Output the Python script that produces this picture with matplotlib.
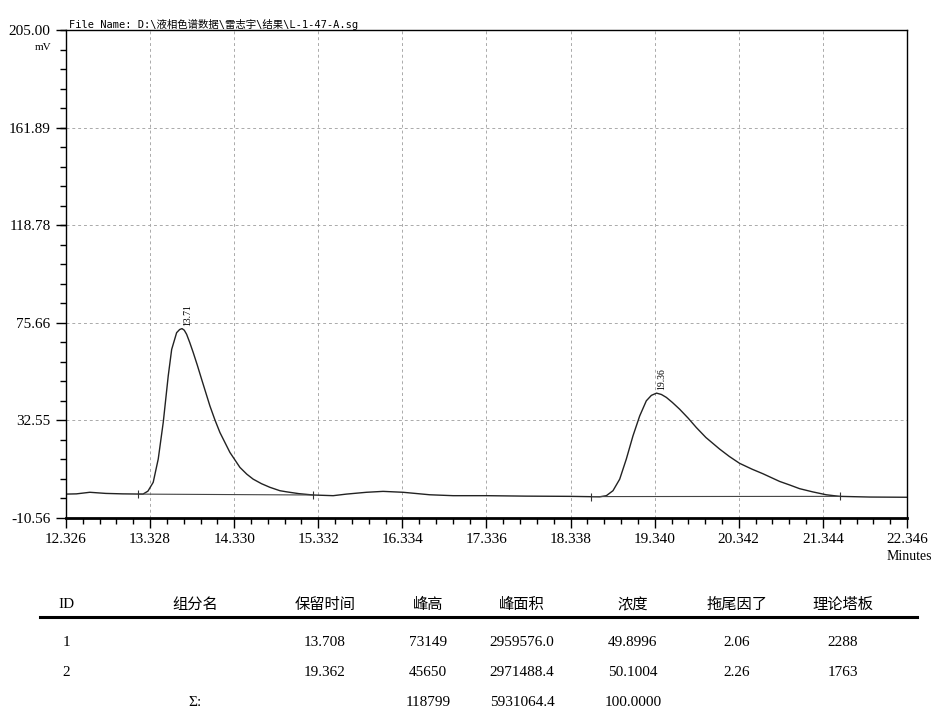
import matplotlib
matplotlib.use('Agg')
from matplotlib import pyplot as plt
from matplotlib.ticker import AutoMinorLocator
from matplotlib.lines import Line2D

plt.rcParams['font.family'] = ['Liberation Serif', 'Noto Sans CJK SC']

# chromatogram trace (minutes, mV)
times = [12.326, 12.45, 12.61, 12.80, 13.00, 13.243, 13.302, 13.365, 13.425, 13.485,
         13.544, 13.585, 13.644, 13.68, 13.708, 13.735, 13.763, 13.80, 13.842, 13.89,
         13.942, 14.041, 14.10, 14.160, 14.279, 14.398, 14.48, 14.556, 14.655, 14.755,
         14.874, 14.954, 15.10, 15.271, 15.509, 15.668, 15.906, 16.104, 16.342, 16.660,
         16.938, 17.335, 17.80, 18.327, 18.684, 18.764, 18.843, 18.923, 19.002, 19.081,
         19.161, 19.240, 19.30, 19.362, 19.42, 19.479, 19.55, 19.637, 19.74, 19.836,
         19.95, 20.113, 20.23, 20.351, 20.50, 20.629, 20.828, 20.95, 21.066, 21.22,
         21.384, 21.542, 21.899, 22.346]
signal = [0.0, 0.1, 0.8, 0.3, 0.1, 0.0, 1.3, 5.2, 15.5, 31.8,
          52.2, 63.9, 71.3, 72.7, 73.1, 72.4, 70.6, 67.0, 62.5, 57.0,
          50.7, 38.9, 32.8, 27.2, 18.4, 11.8, 8.8, 6.6, 4.6, 3.0,
          1.5, 1.0, 0.2, -0.4, -0.7, 0.0, 0.8, 1.2, 0.8, -0.3,
          -0.7, -0.7, -0.9, -1.0, -1.2, -0.7, 1.5, 6.6, 15.5, 25.7,
          34.5, 41.2, 43.6, 44.6, 44.0, 42.7, 40.5, 37.5, 33.5, 29.4,
          25.0, 19.9, 16.6, 13.6, 11.0, 9.0, 5.6, 4.0, 2.4, 1.0,
          -0.3, -1.0, -1.3, -1.4]

# integration baselines (start/end of each peak)
base1_t = [13.187, 15.271]
base1_v = [0.0, -0.4]
base2_t = [18.586, 21.542]
base2_v = [-1.1, -1.0]

peak_t = [13.708, 19.362]
peak_v = [73.1, 44.6]
peak_lbl = ['13.71', '19.36']

x_ticks = [12.326, 13.328, 14.330, 15.332, 16.334, 17.336, 18.338, 19.340, 20.342, 21.344, 22.346]
x_lbls = ['12.326', '13.328', '14.330', '15.332', '16.334', '17.336', '18.338', '19.340', '20.342', '21.344', '22.346']
y_ticks = [-10.56, 32.55, 75.66, 118.78, 161.89, 205.00]
y_lbls = ['-10.56', '32.55', '75.66', '118.78', '161.89', '205.00']

file_name = 'File Name: D:\\液相色谱数据\\雷志宇\\结果\\L-1-47-A.sg'

header = ['ID', '组分名', '保留时间', '峰高', '峰面积', '浓度', '拖尾因了', '理论塔板']
row1 = ['1', '', '13.708', '73149', '2959576.0', '49.8996', '2.06', '2288']
row2 = ['2', '', '19.362', '45650', '2971488.4', '50.1004', '2.26', '1763']
row_sum = ['', 'Σ:', '', '118799', '5931064.4', '100.0000', '', '']

W, H = 933., 711.
fig = plt.figure(figsize=(9.33, 7.11), dpi=100)
ax = fig.add_axes([66/W, 1-518/H, (907-66)/W, (518-30)/H])

ax.plot(times, signal, color='#222222', lw=1.0)
ax.plot(base1_t, base1_v, color='#444444', lw=0.8)
ax.plot(base2_t, base2_v, color='#444444', lw=0.8)
ax.plot(base1_t + base2_t, base1_v + base2_v, ls='none', marker='|', ms=6, color='#333333', mew=0.8)

for t, v, s in zip(peak_t, peak_v, peak_lbl):
    ax.annotate(s, xy=(t, v), xytext=(4, 2), textcoords='offset points',
                rotation=90, ha='center', va='bottom', fontsize=7)

ax.set_xlim(x_ticks[0], x_ticks[-1])
ax.set_ylim(y_ticks[0], y_ticks[-1])
ax.set_xticks(x_ticks)
ax.set_xticklabels(x_lbls, fontsize=11)
ax.set_yticks(y_ticks)
ax.set_yticklabels(y_lbls, fontsize=11)
ax.xaxis.set_minor_locator(AutoMinorLocator(5))
ax.yaxis.set_minor_locator(AutoMinorLocator(5))
ax.tick_params(which='major', direction='out', length=7, width=1.0, pad=4)
ax.tick_params(which='minor', direction='out', length=4, width=1.0)
ax.grid(True, which='major', ls=(0, (3, 3)), color='#aaaaaa', lw=0.7)
for sp in ['left', 'top', 'right']:
    ax.spines[sp].set_linewidth(1.0)
ax.spines['bottom'].set_linewidth(2.0)

ax.text(0.003, 1.0, file_name, transform=ax.transAxes, va='bottom',
        family=['DejaVu Sans Mono', 'Noto Sans CJK SC'], fontsize=7.5)
fig.text(43/W, 1-47/H, 'mV', ha='center', va='center', fontsize=8)
fig.text(932/W, 1-557/H, 'Minutes', ha='right', va='center', fontsize=10)

# results table
col_x = [66, 195, 325, 428, 522, 633, 737, 843]
row_y = [605, 643, 672, 702]
for y, row in zip(row_y, [header, row1, row2, row_sum]):
    for x, s in zip(col_x, row):
        fig.text(x/W, 1-y/H, s, ha='center', va='center', fontsize=11)
fig.add_artist(Line2D([40/W, 917/W], [1-617/H, 1-617/H], lw=2.2, color='k'))

plt.savefig('out.png', dpi=100)
